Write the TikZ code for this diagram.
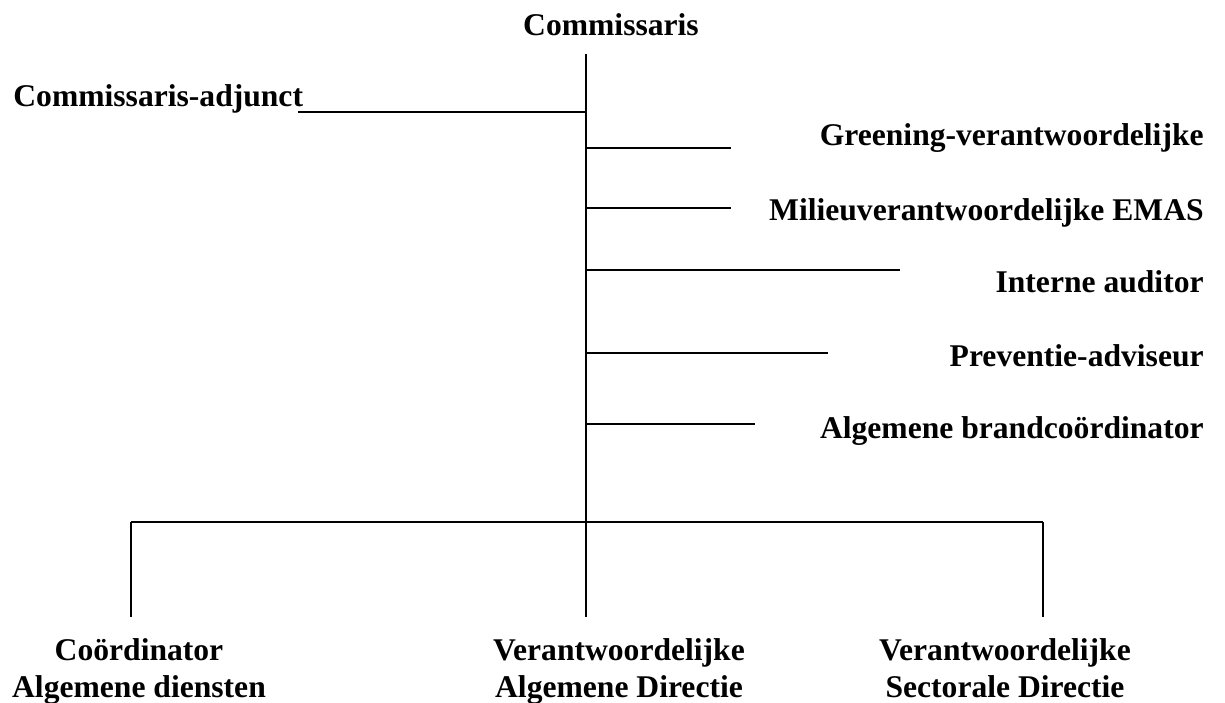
\documentclass[tikz,border=0pt]{standalone}
\usepackage{fontspec}
\setmainfont{Liberation Serif}

\begin{document}
\begin{tikzpicture}[
    x=0.5pt, y=-0.5pt,
    every node/.style = {font=\bfseries\fontsize{15.8pt}{18.5pt}\selectfont, inner sep=0pt},
    lijn/.style = {line width=1pt}
  ]
  \useasboundingbox (0,0) rectangle (1225,702);

  % Commissaris en hoofdlijn
  \node[anchor=base] (comm) at (611,35) {Commissaris};
  \coordinate (top) at (586,54);
  \coordinate (split) at (586,522);
  \draw[lijn] (top) -- (split);

  % Commissaris-adjunct
  \node[anchor=base west] (adj) at (13,106) {Commissaris-adjunct};
  \coordinate (adjl) at (298,112);
  \coordinate (adjr) at (586,112);
  \draw[lijn] (adjr) -- (adjl);

  % stafdiensten rechts
  \node[anchor=base east] (green) at (1204,145) {Greening-verantwoordelijke};
  \node[anchor=base east] (milieu) at (1204,220) {Milieuverantwoordelijke EMAS};
  \node[anchor=base east] (audit) at (1204,292) {Interne auditor};
  \node[anchor=base east] (prev) at (1204,366) {Preventie-adviseur};
  \node[anchor=base east] (brand) at (1204,438) {Algemene brandcoördinator};
  \coordinate (green1) at (586,148);  \coordinate (green2) at (731,148);
  \coordinate (milieu1) at (586,208); \coordinate (milieu2) at (731,208);
  \coordinate (audit1) at (586,270);  \coordinate (audit2) at (900,270);
  \coordinate (prev1) at (586,353);   \coordinate (prev2) at (828,353);
  \coordinate (brand1) at (586,424);  \coordinate (brand2) at (755,424);
  \draw[lijn] (green1) -- (green2);
  \draw[lijn] (milieu1) -- (milieu2);
  \draw[lijn] (audit1) -- (audit2);
  \draw[lijn] (prev1) -- (prev2);
  \draw[lijn] (brand1) -- (brand2);

  % directies onderaan
  \coordinate (splitl) at (131,522);
  \coordinate (splitr) at (1043,522);
  \coordinate (dirl) at (131,617);
  \coordinate (dirm) at (586,617);
  \coordinate (dirr) at (1043,617);
  \draw[lijn] (splitl) -- (splitr);
  \draw[lijn] (splitl) -- (dirl);
  \draw[lijn] (split) -- (dirm);
  \draw[lijn] (splitr) -- (dirr);
  \node[anchor=base, align=center] (coord) at (139,697) {Coördinator\\Algemene diensten};
  \node[anchor=base, align=center] (ad) at (619,697) {Verantwoordelijke\\Algemene Directie};
  \node[anchor=base, align=center] (sd) at (1005,697) {Verantwoordelijke\\Sectorale Directie};
\end{tikzpicture}
\end{document}
